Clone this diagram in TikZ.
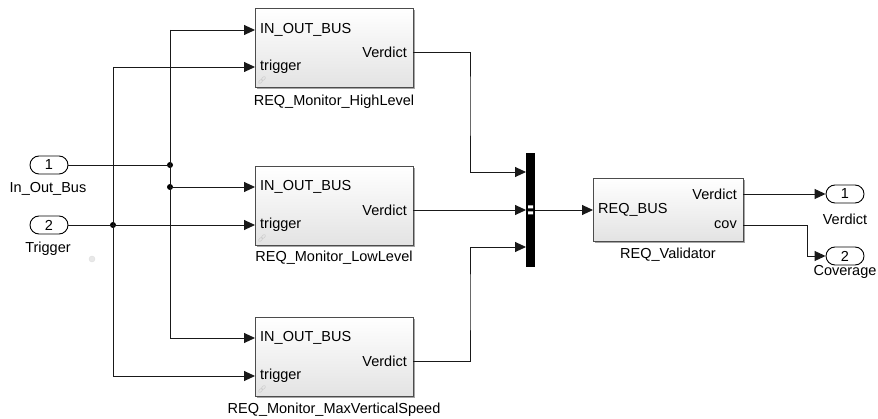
\documentclass[tikz,border=0pt]{standalone}
\usepackage{fontspec}
\setmainfont{Liberation Sans}
\usetikzlibrary{arrows.meta,shadows}

\begin{document}
\begin{tikzpicture}[x=1pt,y=-1pt,
  font=\fontsize{14.5}{16}\selectfont,
  wire/.style={line width=0.9pt, draw=black!90},
  sig/.style={wire,-{Triangle[length=11pt,width=10pt]}},
  junc/.style={circle, fill=black, minimum size=6pt, inner sep=0pt},
  subsys/.style={draw=black!70, line width=0.7pt, top color=white, bottom color=gray!22,
    minimum height=79pt, minimum width=158pt, anchor=north west, inner sep=0pt,
    drop shadow={shadow xshift=1.5pt, shadow yshift=-1.5pt, fill=gray!70, opacity=1}},
  portin/.style={anchor=west, inner sep=0pt, xshift=5pt},
  portout/.style={anchor=east, inner sep=0pt, xshift=-6pt},
  ioport/.style={draw, line width=0.9pt, rounded corners=9pt, minimum width=38pt,
    minimum height=18pt, inner sep=0pt, fill=white},
  muxbar/.style={fill=black, minimum width=9pt, minimum height=114pt, inner sep=0pt},
  linkicon/.pic={\draw[gray!40, line width=0.5pt, rotate=45]
     (-2,0) ellipse (2.4 and 1.4) (2,0) ellipse (2.4 and 1.4);}
]
\useasboundingbox (0,0) rectangle (878,419);

% root inports
\node[ioport] (in1) at (49,165) {1};
\node at (48,189) {In\_Out\_Bus};
\node[ioport] (in2) at (49,225) {2};
\node at (48,249) {Trigger};
\node[circle, fill=gray!18, draw=gray!25, minimum size=6pt, inner sep=0pt] (hint) at (92,259) {};

% monitor subsystems
\node[subsys] (hl) at (255,8) {};
\node at (334,102) {REQ\_Monitor\_HighLevel};
\node[subsys] (ll) at (255,166) {};
\node at (334,258) {REQ\_Monitor\_LowLevel};
\node[subsys] (mv) at (255,317) {};
\node at (334,410) {REQ\_Monitor\_MaxVerticalSpeed};

% port positions on the subsystems
\coordinate (hlbus) at (255,30);  \coordinate (hltrg) at (255,67);  \coordinate (hlout) at (413,52);
\coordinate (llbus) at (255,187); \coordinate (lltrg) at (255,225); \coordinate (llout) at (413,210);
\coordinate (mvbus) at (255,338); \coordinate (mvtrg) at (255,376); \coordinate (mvout) at (413,361);

\foreach \b in {hl,ll,mv}{
  \node[portin] at (\b bus) {IN\_OUT\_BUS};
  \node[portin] at (\b trg) {trigger};
  \node[portout] at (\b out) {Verdict};
}
\pic at (262,80) {linkicon};
\pic at (262,238) {linkicon};
\pic at (262,389) {linkicon};

% bus creator
\node[muxbar] (mux) at (530.5,210) {};
\fill[white] (528,205.5) rectangle (533,208.5) (528,211.5) rectangle (533,214.5);
\coordinate (mx1) at (526,172);
\coordinate (mx2) at (526,210);
\coordinate (mx3) at (526,247);
\coordinate (mxo) at (535,210);

% validator
\node[subsys, minimum width=150pt, minimum height=63pt] (val) at (593,178) {};
\node at (668,255) {REQ\_Validator};
\coordinate (vbus) at (593,210);
\coordinate (vver) at (743,194);
\coordinate (vcov) at (743,225);
\node[portin] at (vbus) {REQ\_BUS};
\node[portout] at (vver) {Verdict};
\node[portout] at (vcov) {cov};

% root outports
\node[ioport] (out1) at (845,194) {1};
\node at (845,219) {Verdict};
\node[ioport] (out2) at (845,256) {2};
\node at (845,272) {Coverage};

% branch points
\node[junc] (j1) at (170,165) {};
\node[junc] (j2) at (170,187) {};
\node[junc] (j3) at (113,225) {};
\coordinate (t1) at (170,30);
\coordinate (b1) at (170,338);
\coordinate (t2) at (113,67);
\coordinate (b2) at (113,376);

% In_Out_Bus distribution
\draw[wire] (in1.east) -- (j1.center);
\draw[wire] (t1) -- (b1);
\draw[sig] (t1) -- (hlbus);
\draw[sig] (j2.center) -- (llbus);
\draw[sig] (b1) -- (mvbus);

% Trigger distribution
\draw[wire] (in2.east) -- (j3.center);
\draw[wire] (t2) -- (b2);
\draw[sig] (t2) -- (hltrg);
\draw[sig] (j3.center) -- (lltrg);
\draw[sig] (b2) -- (mvtrg);

% verdicts into the bus
\draw[sig] (hlout) -| (470,100) |- (mx1);
\draw[sig] (llout) -- (mx2);
\draw[sig] (mvout) -| (470,300) |- (mx3);
\draw[sig] (mxo) -- (vbus);

% validator outputs
\draw[sig] (vver) -- (out1.west);
\draw[sig] (vcov) -| (807,240) |- (out2.west);
\end{tikzpicture}
\end{document}
